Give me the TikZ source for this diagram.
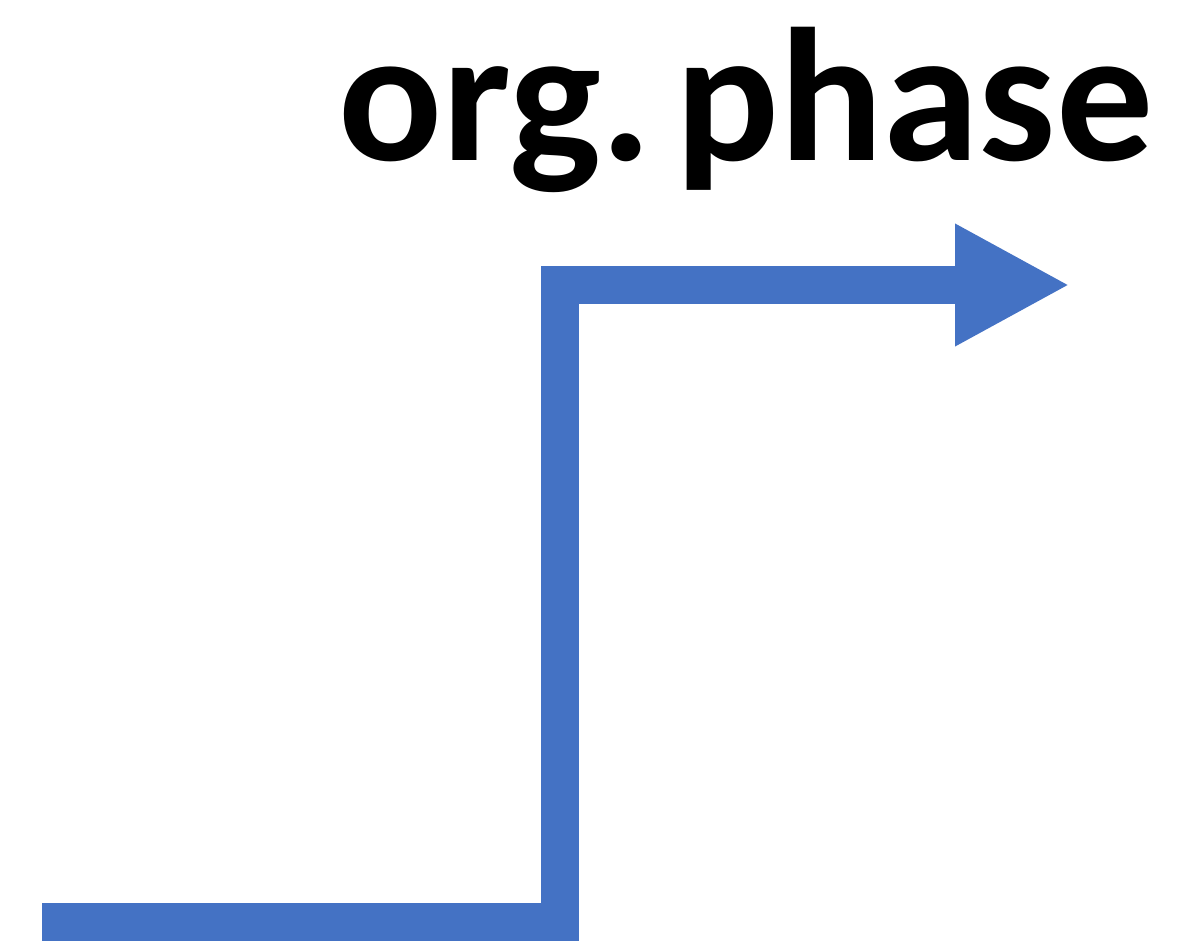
\documentclass[tikz,border=0pt]{standalone}
\usepackage{fontspec}
\setmainfont{Carlito}
\usetikzlibrary{arrows.meta}
\definecolor{stepblue}{HTML}{4472C4}
\tikzset{
  stepline/.style={draw=stepblue, line width=38pt, line join=miter,
    -{Triangle[length=115pt,width=114pt]}},
  phaselabel/.style={font=\bfseries\fontsize{190}{230}\selectfont, text=black, inner sep=0pt, anchor=base west}
}
\begin{document}
\begin{tikzpicture}[x=1pt,y=-1pt]
  \useasboundingbox (0,0) rectangle (1195,942);
  \node[phaselabel, xscale=1.02] (label) at (338,160) {org.\hspace{22pt}phase};
  \coordinate (start) at (42,922);
  \coordinate (low) at (560,922);
  \coordinate (high) at (560,285);
  \coordinate (tip) at (1070,285);
  \draw[stepline] (start) -- (low) -- (high) -- (tip);
\end{tikzpicture}
\end{document}
